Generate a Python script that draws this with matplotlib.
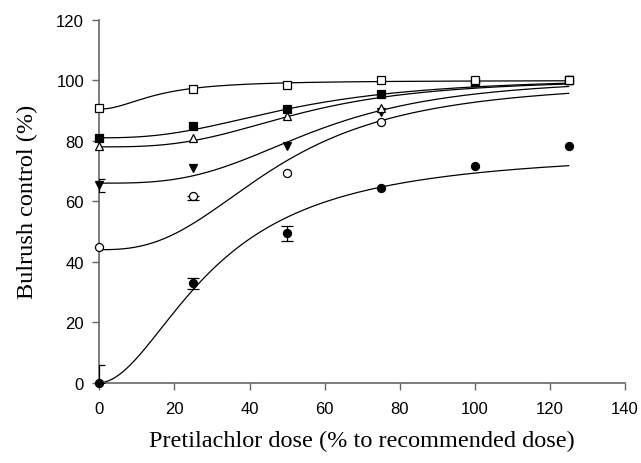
import numpy as np
import matplotlib
matplotlib.use("Agg")
import matplotlib.pyplot as plt

# Observed bulrush control (%) at each pretilachlor dose
doses = [0, 25, 50, 75, 100, 125]
open_sq = [90.9, 97.3, 98.4, 100.0, 100.0, 100.0]
filled_sq = [81.0, 84.8, 90.5, 95.5, 99.5, 100.0]
open_tri = [78.3, 81.0, 88.3, 90.7, 99.5, 100.0]
filled_tri = [65.3, 71.1, 78.3, 89.4, 99.5, 100.0]
open_circ = [44.8, 61.8, 69.5, 86.1, 99.5, 100.0]
filled_circ = [0.0, 32.9, 49.4, 64.3, 71.7, 78.2]

# standard errors (lower, upper); 0 = bar hidden by the marker
err_lo_filled_tri = [2.2, 0, 0, 0, 0, 0]
err_hi_filled_tri = [2.2, 0, 0, 0, 0, 0]
err_lo_open_circ = [0, 1.4, 0, 0, 0, 0]
err_hi_open_circ = [0, 0, 0, 0, 0, 0]
err_lo_filled_circ = [0, 1.8, 2.5, 0, 0, 0]
err_hi_filled_circ = [6.0, 1.8, 2.5, 0, 0, 0]

# fitted log-logistic curves: lower c, upper d, ED50 e, slope b
fit_c = [90.5, 81.0, 78.0, 66.0, 44.0, 0.0]
fit_d = [100.0, 101.0, 100.5, 101.0, 100.0, 77.0]
fit_e = [15.5, 52.0, 54.0, 58.0, 48.0, 31.0]
fit_b = [2.0, 2.56, 2.98, 3.07, 2.6, 1.88]

series = [open_sq, filled_sq, open_tri, filled_tri, open_circ, filled_circ]
markers = ['s', 's', '^', 'v', 'o', 'o']
faces = ['white', 'black', 'white', 'black', 'white', 'black']

fig = plt.figure(figsize=(6.41, 4.64), dpi=100)
ax = fig.add_axes([0.155, 0.173, 0.82, 0.782])

xs = np.linspace(0, 125, 400)
for c, d, e, b in zip(fit_c, fit_d, fit_e, fit_b):
    ys = c + (d - c) * xs**b / (xs**b + e**b)
    ax.plot(xs, ys, color='black', lw=0.9, zorder=2)

bars = [(filled_tri, err_lo_filled_tri, err_hi_filled_tri),
        (open_circ, err_lo_open_circ, err_hi_open_circ),
        (filled_circ, err_lo_filled_circ, err_hi_filled_circ)]
for ys, lo, hi in bars:
    idx = [i for i in range(len(doses)) if lo[i] > 0 or hi[i] > 0]
    ax.errorbar([doses[i] for i in idx], [ys[i] for i in idx],
                yerr=[[lo[i] for i in idx], [hi[i] for i in idx]], fmt='none',
                ecolor='black', elinewidth=0.9, capsize=4, capthick=0.9, zorder=3)

# draw in reverse so the open squares end up on top where points overlap
for ys, m, fc in list(zip(series, markers, faces))[::-1]:
    ax.plot(doses, ys, linestyle='none', marker=m, mfc=fc, mec='black', ms=5.8,
            mew=0.9, zorder=4, clip_on=False)

ax.set_xlim(0, 140)
ax.set_ylim(0, 120)
ax.set_xticks(range(0, 141, 20))
ax.set_yticks(range(0, 121, 20))
for s in ['top', 'right']:
    ax.spines[s].set_visible(False)
for s in ['left', 'bottom']:
    ax.spines[s].set_color('#666666')
    ax.spines[s].set_linewidth(1.2)
ax.tick_params(direction='out', length=5, width=1, color='#666666', labelsize=12)
ax.tick_params(axis='x', pad=8)
ax.tick_params(axis='y', pad=6)
for lab in ax.get_xticklabels() + ax.get_yticklabels():
    lab.set_family('Liberation Sans')

ax.set_xlabel('Pretilachlor dose (% to recommended dose)', family='Liberation Serif',
              fontsize=17.5)
ax.set_ylabel('Bulrush control (%)', family='Liberation Serif', fontsize=17.5)
ax.xaxis.set_label_coords(0.5, -0.13)
ax.yaxis.set_label_coords(-0.117, 0.5)

fig.savefig('out.png', dpi=100)
